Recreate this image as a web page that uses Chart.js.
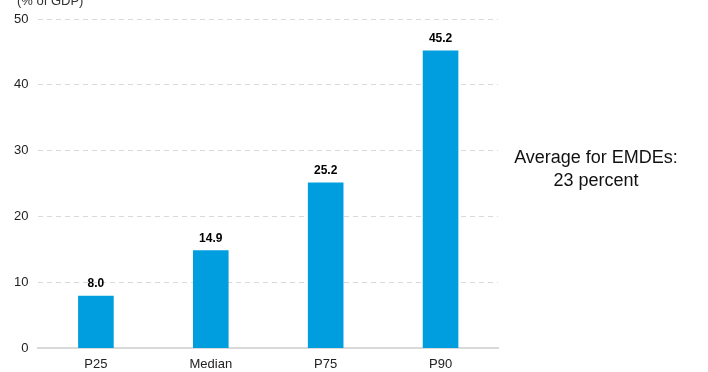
<!DOCTYPE html>
<html>
<head>
<meta charset="utf-8">
<script src="https://cdn.jsdelivr.net/npm/chart.js@4/dist/chart.umd.min.js"></script>
<style>
  html, body { margin: 0; padding: 0; background: #fff; }
</style>
</head>
<body>
<canvas id="chart" width="708" height="372"></canvas>
<script>
const categories = ['P25', 'Median', 'P75', 'P90'];
const values = [8.0, 14.9, 25.2, 45.2];
const yTicks = [0, 10, 20, 30, 40, 50];
const unitLabel = '(% of GDP)';
const noteLines = ['Average for EMDEs:', '23 percent'];

const FONT = '"Liberation Sans", Arial, sans-serif';

// value labels above bars + the unit and the side note
const labelsPlugin = {
  id: 'labels',
  afterDatasetsDraw(chart) {
    const ctx = chart.ctx;
    const meta = chart.getDatasetMeta(0);
    ctx.save();
    ctx.fillStyle = '#000';
    ctx.font = 'bold 12px ' + FONT;
    ctx.textAlign = 'center';
    ctx.textBaseline = 'bottom';
    meta.data.forEach((bar, i) => {
      ctx.fillText(values[i].toFixed(1), bar.x, bar.y - 6);
    });

    ctx.font = '13px ' + FONT;
    ctx.fillStyle = '#333';
    ctx.textAlign = 'left';
    ctx.textBaseline = 'middle';
    ctx.fillText(unitLabel, 17, 1);

    ctx.font = '18px ' + FONT;
    ctx.fillStyle = '#111';
    ctx.textAlign = 'center';
    ctx.fillText(noteLines[0], 596, 158);
    ctx.fillText(noteLines[1], 596, 181);
    ctx.restore();
  }
};

new Chart(document.getElementById('chart'), {
  type: 'bar',
  data: {
    labels: categories,
    datasets: [{
      data: values,
      backgroundColor: '#009ede',
      barPercentage: 0.31,
      categoryPercentage: 1
    }]
  },
  options: {
    responsive: false,
    animation: false,
    devicePixelRatio: 1,
    layout: { padding: { left: 4, right: 210, top: 19, bottom: 0 } },
    plugins: { legend: { display: false }, tooltip: { enabled: false } },
    scales: {
      x: {
        grid: { display: false },
        border: { display: true, color: '#d9d9d9', width: 2 },
        ticks: { color: '#222', font: { size: 13, family: FONT }, padding: 0 }
      },
      y: {
        min: 0,
        max: 50,
        afterBuildTicks(axis) { axis.ticks = yTicks.map(v => ({ value: v })); },
        grid: { color: '#d9d9d9', drawTicks: false },
        border: { display: false, dash: [5, 4] },
        ticks: { color: '#222', font: { size: 13, family: FONT }, padding: 10 }
      }
    }
  },
  plugins: [labelsPlugin]
});
</script>
</body>
</html>
